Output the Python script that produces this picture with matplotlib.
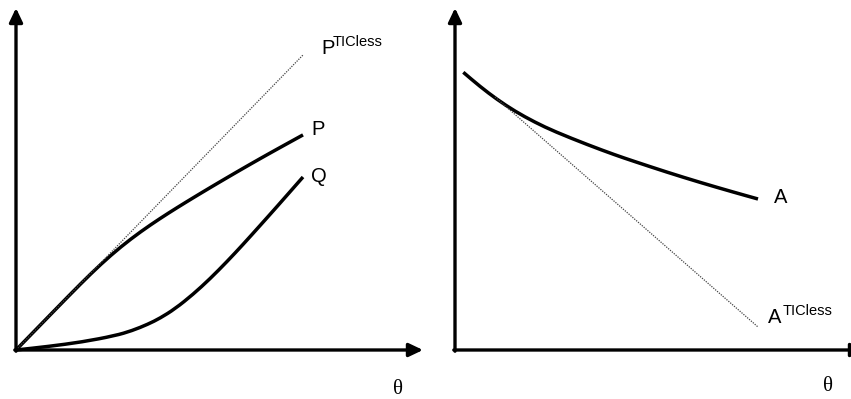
import matplotlib
matplotlib.use("Agg")
import matplotlib.pyplot as plt
from matplotlib.path import Path
from matplotlib.patches import PathPatch

# ---------------- data (arbitrary units) ----------------
P_theta = [0, 0.40, 0.65, 0.85, 1.05, 1.25, 1.44, 1.61, 1.77, 1.94, 2.11, 2.27, 2.44, 2.61, 2.87]
P_vals = [0, 0.411, 0.666, 0.860, 1.034, 1.186, 1.315, 1.423, 1.521, 1.623, 1.723, 1.816, 1.913, 2.008, 2.151]

Q_theta = [0, 0.32, 0.66, 0.99, 1.16, 1.32, 1.44, 1.59, 1.77, 1.94, 2.11, 2.27, 2.44, 2.61, 2.87]
Q_vals = [0, 0.035, 0.080, 0.143, 0.193, 0.258, 0.318, 0.412, 0.556, 0.712, 0.884, 1.055, 1.244, 1.434, 1.730]

P_TICless_theta = [0, 2.87]
P_TICless_vals = [0, 2.95]

A_theta = [0.083, 0.25, 0.42, 0.60, 0.80, 1.00, 1.33, 1.60, 1.78, 2.12, 2.45, 2.78, 3.03]
A_vals = [2.777, 2.635, 2.506, 2.387, 2.277, 2.183, 2.051, 1.951, 1.890, 1.778, 1.676, 1.580, 1.510]

A_TICless_theta = [0.40, 3.03]
A_TICless_vals = [2.53, 0.23]

x_label = "θ"
curve_labels = ["P", "Q", "A"]
base_labels = ["P", "A"]
ticless_sup = "TICless"

# ---------------- figure ----------------
W, H, DPI = 851, 399, 100
fig = plt.figure(figsize=(W / DPI, H / DPI), dpi=DPI)
fig.patch.set_facecolor("white")

sans = ["Liberation Sans", "DejaVu Sans"]
serif = ["Liberation Serif", "DejaVu Serif"]


def make_ax(px0, px1, ox, oy):
    ax = fig.add_axes([px0 / W, 0, (px1 - px0) / W, 1])
    ax.set_xlim((px0 - ox) / 100, (px1 - ox) / 100)
    ax.set_ylim((oy - H) / 100, oy / 100)
    ax.axis("off")
    return ax


def draw_axes_arrows(ax, xtip, ytip):
    ap = dict(arrowstyle="-|>,head_length=0.42,head_width=0.2", lw=2.4,
              color="black", shrinkA=0, shrinkB=0, mutation_scale=20)
    ax.annotate("", xy=(xtip, 0), xytext=(-0.012, 0), arrowprops=ap,
                annotation_clip=False)
    ax.annotate("", xy=(0, ytip), xytext=(0, -0.012), arrowprops=ap,
                annotation_clip=False)


def smooth_curve(ax, xs, ys, lw=2.5):
    """Draw a smooth curve through the read points (quadratic Beziers
    with the points as control points)."""
    pts = list(zip(xs, ys))
    verts = [pts[0]]
    codes = [Path.MOVETO]
    mids = [((pts[i][0] + pts[i + 1][0]) / 2, (pts[i][1] + pts[i + 1][1]) / 2)
            for i in range(len(pts) - 1)]
    verts.append(mids[0]); codes.append(Path.LINETO)
    for i in range(1, len(pts) - 1):
        verts += [pts[i], mids[i]]
        codes += [Path.CURVE3, Path.CURVE3]
    verts.append(pts[-1]); codes.append(Path.LINETO)
    patch = PathPatch(Path(verts, codes), facecolor="none", edgecolor="black",
                      lw=lw, capstyle="butt", joinstyle="round")
    ax.add_patch(patch)


dot_kw = dict(color="#444444", lw=0.9, linestyle=(0, (1.0, 1.0)))

# ---- left panel ----
axL = make_ax(0, 428, 16, 350)
draw_axes_arrows(axL, 4.07, 3.42)
axL.plot(P_TICless_theta, P_TICless_vals, **dot_kw)
smooth_curve(axL, P_theta, P_vals)
smooth_curve(axL, Q_theta, Q_vals)

axL.text(3.05, 2.965, base_labels[0], fontsize=14.5, family=sans, ha="left", va="baseline")
axL.text(3.17, 3.035, ticless_sup, fontsize=10.5, family=sans, ha="left", va="baseline")
axL.text(2.95, 2.15, curve_labels[0], fontsize=14.5, family=sans, ha="left", va="baseline")
axL.text(2.95, 1.685, curve_labels[1], fontsize=14.5, family=sans, ha="left", va="baseline")
axL.text(3.82, -0.44, x_label, fontsize=15, family=serif, ha="center", va="baseline")

# ---- right panel ----
axR = make_ax(430, 851, 455, 350)
draw_axes_arrows(axR, 4.10, 3.42)
axR.plot(A_TICless_theta, A_TICless_vals, **dot_kw)
smooth_curve(axR, A_theta, A_vals)

axR.text(3.19, 1.467, curve_labels[2], fontsize=14.5, family=sans, ha="left", va="baseline")
axR.text(3.125, 0.267, base_labels[1], fontsize=14.5, family=sans, ha="left", va="baseline")
axR.text(3.28, 0.35, ticless_sup, fontsize=10.5, family=sans, ha="left", va="baseline")
axR.text(3.73, -0.407, x_label, fontsize=15, family=serif, ha="center", va="baseline")

fig.savefig("out.png", dpi=DPI, facecolor="white")
